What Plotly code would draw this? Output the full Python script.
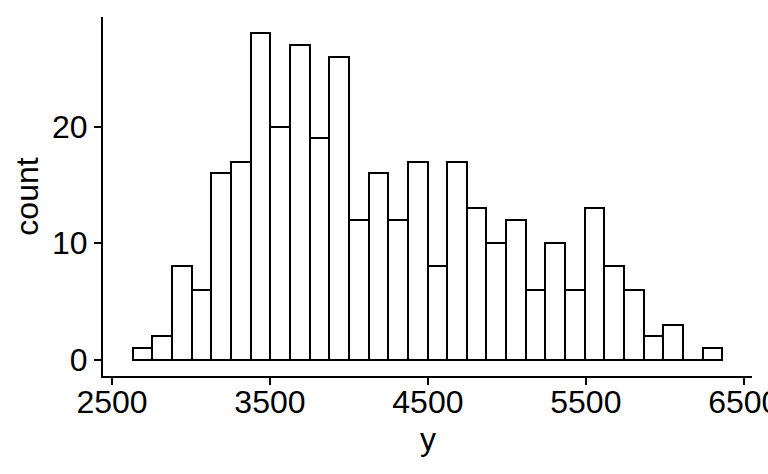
import plotly.graph_objects as go

# histogram data (30 bins)
bin_start = 2630.0
bin_width = 124.5
counts = [1, 2, 8, 6, 16, 17, 28, 20, 27, 19, 26, 12, 16, 12, 17,
          8, 17, 13, 10, 12, 6, 10, 6, 13, 8, 6, 2, 3, 0, 1]
x_ticks = [2500, 3500, 4500, 5500, 6500]
y_ticks = [0, 10, 20]

centers = [bin_start + bin_width * (i + 0.5) for i in range(len(counts))]

fig = go.Figure(go.Bar(
    x=centers, y=counts, width=[bin_width] * len(counts),
    marker=dict(color="white", line=dict(color="black", width=2)),
))

font = dict(family="Liberation Sans, Arial, sans-serif", size=32, color="black")
axis_common = dict(showline=True, linecolor="black", linewidth=2, ticks="outside",
                   ticklen=7, tickwidth=2, tickcolor="black", showgrid=False,
                   zeroline=False, tickfont=font, automargin=False,
                   ticklabeloverflow="allow")

fig.update_layout(
    width=768, height=474,
    margin=dict(l=103, r=16, t=17, b=98),
    plot_bgcolor="white", paper_bgcolor="white",
    bargap=0, showlegend=False, font=font,
    xaxis=dict(range=[2443, 6552], tickvals=x_ticks, ticktext=[str(v) for v in x_ticks],
               ticklabelstandoff=-10, **axis_common),
    yaxis=dict(range=[-1.4, 29.4], tickvals=y_ticks, ticktext=[str(v) for v in y_ticks],
               title=dict(text="count", font=font, standoff=4), **axis_common),
    annotations=[dict(text="y", xref="paper", yref="paper", x=0.5, y=0,
                      xanchor="center", yanchor="middle", yshift=-63,
                      showarrow=False, font=font)],
)

fig.write_html("out.html", config={"displayModeBar": False},
               post_script="document.body.style.margin='0';document.body.style.overflow='hidden';")
